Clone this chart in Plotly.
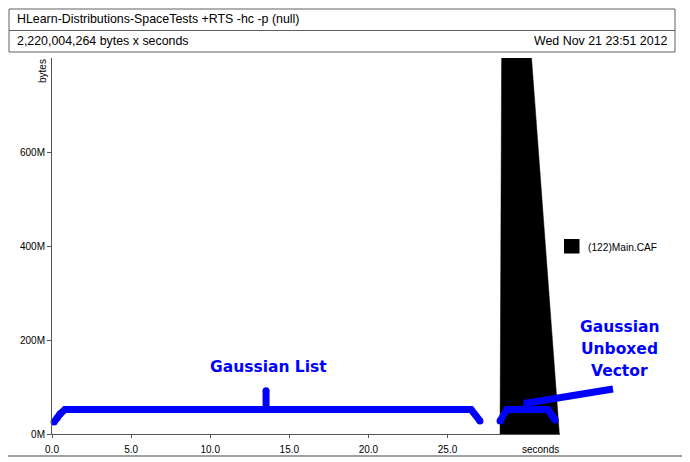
import plotly.graph_objects as go

# ---------------- data ----------------
title_text = "HLearn-Distributions-SpaceTests +RTS -hc -p (null)"
total_text = "2,220,004,264 bytes x seconds"
date_text = "Wed Nov 21 23:51 2012"

series_name = "(122)Main.CAF"
caf_seconds = [28.32, 28.42, 30.31, 32.07]
caf_bytes = [0, 800e6, 800e6, 0]

x_tick_vals = [0, 5, 10, 15, 20, 25]
x_tick_text = ["0.0", "5.0", "10.0", "15.0", "20.0", "25.0"]
y_tick_vals = [0, 200e6, 400e6, 600e6]
y_tick_text = ["0M", "200M", "400M", "600M"]

X_MAX = 32.11
Y_MAX = 800e6

# hand-drawn blue annotation strokes (seconds, bytes)
gl_brace_t = [0.13, 0.32, 0.51, 0.82, 26.49, 27.05]
gl_brace_b = [25.5e6, 34.0e6, 42.6e6, 52.1e6, 52.1e6, 27.7e6]
gl_tick_t = [13.53, 13.53]
gl_tick_b = [52.1e6, 92.0e6]
guv_brace_t = [28.32, 28.76, 31.35, 31.80]
guv_brace_b = [27.7e6, 52.1e6, 52.1e6, 29.8e6]
guv_pointer_t = [30.03, 30.03, 35.46]
guv_pointer_b = [52.1e6, 66.0e6, 95.7e6]

gl_label = "Gaussian List"
gl_label_pos = (13.68, 142e6)
guv_label_lines = ["Gaussian", "Unboxed", "Vector"]
guv_label_pos = [(35.9, 228e6), (35.9, 181e6), (35.85, 134e6)]

# ---------------- layout geometry (pixels) ----------------
OFF = 8  # page body margin
W, H = 690, 462
PW, PH = 508, 376
L, T = 52 - OFF, 58 - OFF
R, B = W - L - PW, H - T - PH


def px(x):
    return (x - OFF - L) / PW


def py(y):
    return (H - B - (y - OFF)) / PH


fig = go.Figure()

fig.add_trace(go.Scatter(
    x=caf_seconds, y=caf_bytes, name=series_name, mode="lines",
    fill="toself", fillcolor="black", line=dict(color="black", width=0.5),
    showlegend=False, hoverinfo="skip"))

BLUE = "#0000ff"
shapes = []


def stroke(ts, bs):
    path = "M " + " L ".join(f"{t / X_MAX:.5f},{b / Y_MAX:.5f}" for t, b in zip(ts, bs))
    shapes.append(dict(type="path", xref="paper", yref="paper", path=path,
                       line=dict(color=BLUE, width=7)))
    fig.add_trace(go.Scatter(x=ts, y=bs, mode="markers", cliponaxis=False,
                             marker=dict(color=BLUE, size=7, line=dict(width=0)),
                             showlegend=False, hoverinfo="skip"))


for ts, bs in [(gl_brace_t, gl_brace_b), (gl_tick_t, gl_tick_b),
               (guv_brace_t, guv_brace_b), (guv_pointer_t, guv_pointer_b)]:
    stroke(ts, bs)

# frames
shapes.insert(0, dict(type="rect", xref="paper", yref="paper", x0=px(4), x1=px(683),
                      y0=py(456), y1=py(4), line=dict(color="#a0a0a0", width=2),
                      layer="below"))
shapes.insert(1, dict(type="rect", xref="paper", yref="paper", x0=px(9), x1=px(675),
                      y0=py(52), y1=py(9), line=dict(color="#606060", width=1),
                      layer="below"))
shapes.insert(2, dict(type="line", xref="paper", yref="paper", x0=px(9), x1=px(675),
                      y0=py(30.5), y1=py(30.5), line=dict(color="#606060", width=1),
                      layer="below"))
# legend key
shapes.append(dict(type="rect", xref="paper", yref="paper", x0=px(564), x1=px(579.5),
                   y0=py(253.5), y1=py(239), fillcolor="black", line=dict(width=0)))

FONT = "Liberation Sans, Arial, Helvetica, sans-serif"
ann = []
ann.append(dict(text=title_text, xref="paper", yref="paper", x=px(15), y=py(19.5),
                xanchor="left", yanchor="middle", showarrow=False,
                font=dict(family=FONT, size=12.4, color="black")))
ann.append(dict(text=total_text, xref="paper", yref="paper", x=px(15), y=py(41.5),
                xanchor="left", yanchor="middle", showarrow=False,
                font=dict(family=FONT, size=12.4, color="black")))
ann.append(dict(text=date_text, xref="paper", yref="paper", x=px(670), y=py(41.5),
                xanchor="right", yanchor="middle", showarrow=False,
                font=dict(family=FONT, size=12.4, color="black")))
ann.append(dict(text="bytes", xref="paper", yref="paper", x=px(43), y=py(71),
                xanchor="center", yanchor="middle", textangle=-90, showarrow=False,
                font=dict(family=FONT, size=10, color="black")))
ann.append(dict(text="seconds", xref="paper", yref="paper", x=px(540), y=py(449),
                xanchor="center", yanchor="middle", showarrow=False,
                font=dict(family=FONT, size=10, color="black")))
ann.append(dict(text=series_name, xref="paper", yref="paper", x=px(586), y=py(247),
                xanchor="left", yanchor="middle", showarrow=False,
                font=dict(family=FONT, size=10.2, color="black")))

BFONT = dict(family="DejaVu Sans, Verdana, sans-serif", size=15.5, color=BLUE)
ann.append(dict(text=f"<b>{gl_label}</b>", x=gl_label_pos[0] / X_MAX,
                y=gl_label_pos[1] / Y_MAX, xref="paper", yref="paper",
                xanchor="center", yanchor="middle", showarrow=False, font=BFONT))
for line, (lx, ly) in zip(guv_label_lines, guv_label_pos):
    ann.append(dict(text=f"<b>{line}</b>", x=lx / X_MAX, y=ly / Y_MAX,
                    xref="paper", yref="paper", xanchor="center", yanchor="middle",
                    showarrow=False, font=BFONT))

AX = "#555555"
fig.update_layout(
    width=W, height=H, margin=dict(l=L, r=R, t=T, b=B, pad=0, autoexpand=False),
    paper_bgcolor="white", plot_bgcolor="white", showlegend=False,
    shapes=shapes, annotations=ann,
    xaxis=dict(range=[0, X_MAX], tickvals=x_tick_vals, ticktext=x_tick_text,
               automargin=False, ticklabelstandoff=3,
               showgrid=False, zeroline=False, showline=True, linecolor=AX,
               linewidth=1, ticks="outside", ticklen=3, tickcolor=AX,
               tickfont=dict(family=FONT, size=10, color="black")),
    yaxis=dict(range=[0, Y_MAX], tickvals=y_tick_vals, ticktext=y_tick_text,
               automargin=False,
               showgrid=False, zeroline=False, showline=True, linecolor=AX,
               linewidth=1, ticks="outside", ticklen=4, tickcolor=AX,
               tickfont=dict(family=FONT, size=10, color="black")),
)

fig.write_html("out.html")
